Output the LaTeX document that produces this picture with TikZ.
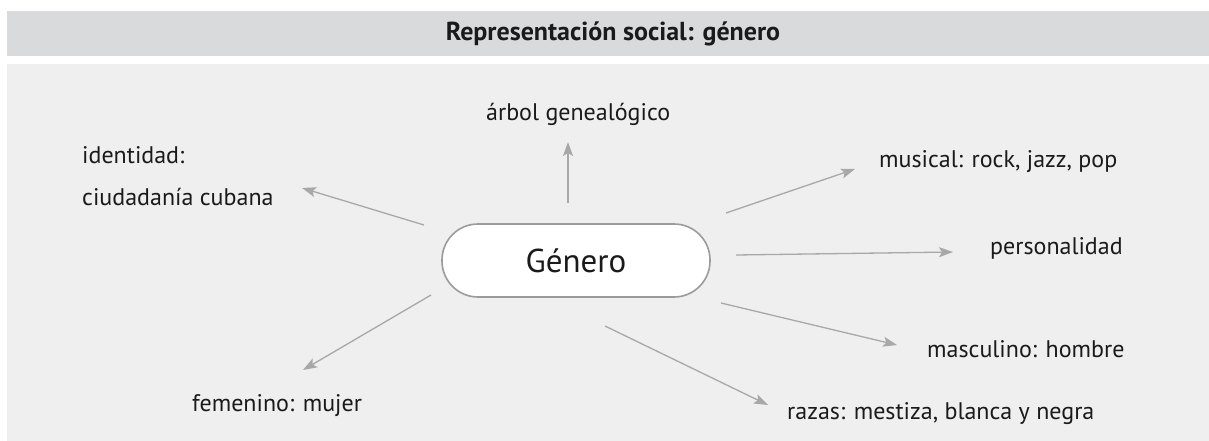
\documentclass[tikz,border=0pt]{standalone}
\usepackage{fontspec}
\setmainfont{PT Sans}
\usetikzlibrary{arrows.meta}
\definecolor{hdr}{HTML}{D9DADC}
\definecolor{bodybg}{HTML}{EFEFEF}
\definecolor{arr}{HTML}{A8A8A8}
\definecolor{pillline}{HTML}{9B9B9B}
\definecolor{ink}{HTML}{1A1A1A}
\begin{document}
\begin{tikzpicture}[x=1pt,y=-1pt,
  lbl/.style={anchor=base west, inner sep=0pt, font=\fontsize{24}{28}\selectfont, text=ink},
  conn/.style={draw=arr, line width=1.3pt, -{Stealth[length=14pt,width=10pt,inset=3pt]}},
  pill/.style={draw=pillline, line width=1.6pt, fill=white, rounded corners=36pt,
    minimum width=268pt, minimum height=73pt, inner sep=0pt, text=ink, font=\fontsize{33}{37}\selectfont}]
\useasboundingbox (0,0) rectangle (1209,441);
\fill[hdr] (7,11) rectangle (1209,56.5);
\fill[bodybg] (7,64) rectangle (1209,441);
\node[font=\bfseries\fontsize{26}{30}\selectfont, text=ink, inner sep=0pt] (title) at (613,34) {Representación social: género};
\node[pill] (g) at (576,260.5) {Género};
\node[lbl] (arbol) at (486,121) {árbol genealógico};
\node[lbl] (ident) at (82,163) {identidad:};
\node[lbl] (ciud) at (82,205) {ciudadanía cubana};
\node[lbl] (music) at (879,167) {musical: rock, jazz, pop};
\node[lbl] (pers) at (990,254) {personalidad};
\node[lbl] (masc) at (927,357) {masculino: hombre};
\node[lbl] (razas) at (787,419) {razas: mestiza, blanca y negra};
\node[lbl] (fem) at (192,411) {femenino: mujer};
\coordinate (a1s) at (568,203); \coordinate (a1e) at (568,142);
\coordinate (a2s) at (424,225); \coordinate (a2e) at (302,188);
\coordinate (a3s) at (726,213); \coordinate (a3e) at (855,169);
\coordinate (a4s) at (736,255); \coordinate (a4e) at (953,252);
\coordinate (a5s) at (721,303); \coordinate (a5e) at (897,345);
\coordinate (a6s) at (605,326); \coordinate (a6e) at (768,405);
\coordinate (a7s) at (431,295); \coordinate (a7e) at (303,370);
\draw[conn] (a1s) -- (a1e);
\draw[conn] (a2s) -- (a2e);
\draw[conn] (a3s) -- (a3e);
\draw[conn] (a4s) -- (a4e);
\draw[conn] (a5s) -- (a5e);
\draw[conn] (a6s) -- (a6e);
\draw[conn] (a7s) -- (a7e);
\end{tikzpicture}
\end{document}
